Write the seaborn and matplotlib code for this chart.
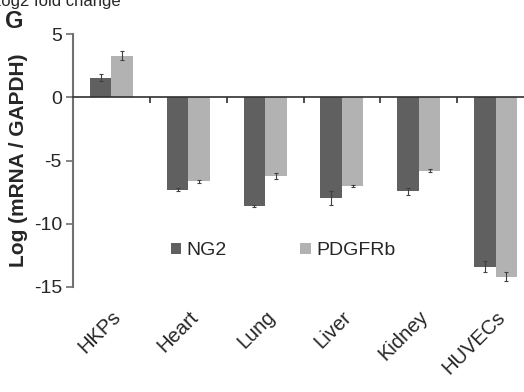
import pandas as pd
import numpy as np
import matplotlib
matplotlib.use('Agg')
import matplotlib.pyplot as plt
import seaborn as sns
from matplotlib.patches import Ellipse

# values (log mRNA / GAPDH)
tissues = ['HKPs', 'Heart', 'Lung', 'Liver', 'Kidney', 'HUVECs']
ng2 = [1.56, -7.3, -8.6, -8.0, -7.45, -13.4]
ng2_err = [0.3, 0.1, 0.1, 0.55, 0.3, 0.45]
pdgfrb = [3.3, -6.65, -6.25, -7.0, -5.8, -14.2]
pdgfrb_err = [0.35, 0.1, 0.25, 0.1, 0.1, 0.35]

genes = ['NG2', 'PDGFRb']
colors = ['#606060', '#b2b2b2']

df = pd.DataFrame({
    'Tissue': tissues * 2,
    'Gene': ['NG2'] * len(tissues) + ['PDGFRb'] * len(tissues),
    'Value': ng2 + pdgfrb,
    'Err': ng2_err + pdgfrb_err,
})

sns.set_style('white')
plt.rcParams['font.family'] = ['Liberation Sans', 'DejaVu Sans']

fig = plt.figure(figsize=(5.24, 3.92), dpi=100)
ax = fig.add_axes([0.1393, 0.268, 0.880, 0.645])

sns.barplot(data=df, x='Tissue', y='Value', hue='Gene', order=tissues,
            hue_order=genes, palette=colors, width=0.56, errorbar=None,
            saturation=1, linewidth=0, ax=ax, legend=True)

# error bars placed at the bar centres seaborn computed
for cont, g in zip(ax.containers, genes):
    sub = df[df['Gene'] == g].set_index('Tissue').loc[tissues]
    xs = [p.get_x() + p.get_width() / 2 for p in cont.patches]
    ax.errorbar(xs, sub['Value'], yerr=sub['Err'], fmt='none',
                ecolor='#404040', elinewidth=0.8, capsize=1.5, capthick=0.8)

ax.set_ylim(-15, 5)
ax.set_xlim(-0.5, 5.5)
ax.set_yticks([5, 0, -5, -10, -15])
ax.set_yticklabels(['5', '0', '-5', '-10', '-15'])
ax.tick_params(axis='y', direction='out', length=5, width=1.2, color='#707070',
               labelsize=14, pad=3, left=True)
ax.set_ylabel('Log (mRNA / GAPDH)', fontsize=15, fontweight='bold', labelpad=4)
ax.set_xlabel('')

for s in ['top', 'right']:
    ax.spines[s].set_visible(False)
ax.spines['left'].set_color('#707070')
ax.spines['left'].set_linewidth(1.5)
ax.spines['bottom'].set_position(('data', 0))
ax.spines['bottom'].set_color('#303030')
ax.spines['bottom'].set_linewidth(1.2)

# boundary ticks on the zero line, no labels there
ax.set_xticks(np.arange(len(tissues)))
ax.set_xticklabels([])
ax.tick_params(axis='x', which='major', length=0)
ax.set_xticks(np.arange(len(tissues) - 1) + 0.5, minor=True)
ax.tick_params(axis='x', which='minor', direction='out', length=4, width=1.2,
               color='#303030', bottom=True)

# tissue labels along the bottom of the axes
sec = ax.secondary_xaxis(-0.08)
sec.set_xticks(np.arange(len(tissues)))
sec.set_xticklabels(tissues, rotation=45, ha='right', rotation_mode='anchor',
                    fontsize=14.5)
sec.tick_params(length=0, pad=0)
sec.spines['bottom'].set_visible(False)

ax.legend(handles=ax.get_legend_handles_labels()[0], labels=genes,
          loc='center', bbox_to_anchor=(283 / 524, 1 - 251 / 392),
          bbox_transform=fig.transFigure, ncol=2, frameon=False, fontsize=14,
          handlelength=0.55, handleheight=0.55, handletextpad=0.25,
          columnspacing=3.8)

# panel fragments cropped from the original figure
fig.text(-0.016, 1 - 6 / 392, 'Log2 fold change', fontsize=12, va='baseline',
         ha='left')
fig.text(0.01, 0.945, 'G', fontsize=17, fontweight='bold', va='center')
fig.patches.append(Ellipse((402 / 524, 1 + 41 / 392), 80 / 524, 80 / 392,
                           transform=fig.transFigure, facecolor='#6aaa5a',
                           edgecolor='#2d5a2d'))

fig.savefig('out.png', dpi=100)
